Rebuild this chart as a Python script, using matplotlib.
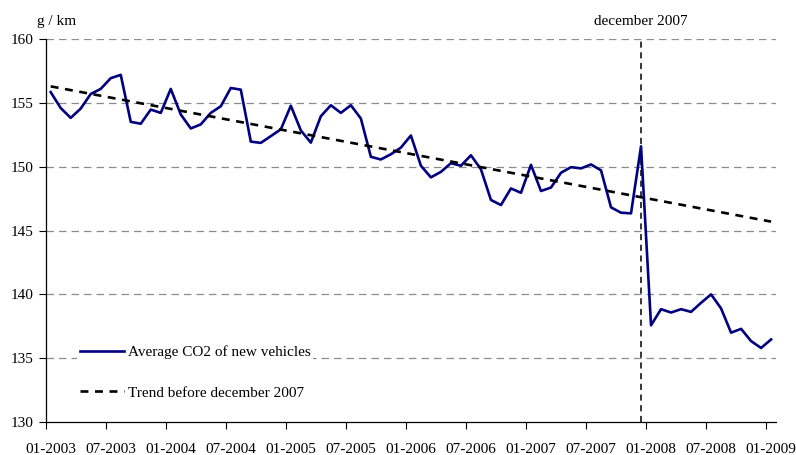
import numpy as np
import matplotlib.pyplot as plt

plt.rcParams['font.family'] = ['Liberation Serif', 'DejaVu Serif']

# monthly average CO2 of new vehicles, 01-2003 .. 01-2009
co2 = [155.85, 154.6, 153.83, 154.56, 155.7, 156.1, 156.94, 157.2, 153.52, 153.37,
       154.48, 154.22, 156.1, 154.1, 153.0, 153.32, 154.22, 154.74, 156.17, 156.04,
       151.97, 151.87, 152.4, 152.93, 154.78, 152.85, 151.89, 153.96, 154.82, 154.22,
       154.82, 153.78, 150.78, 150.57, 150.98, 151.5, 152.45, 150.08, 149.17, 149.6,
       150.28, 150.08, 150.9, 149.8, 147.4, 147.0, 148.3, 147.96, 150.15, 148.1,
       148.37, 149.53, 149.97, 149.87, 150.18, 149.72, 146.82, 146.4, 146.35, 151.6,
       137.58, 138.84, 138.58, 138.84, 138.63, 139.34, 140.0, 138.9, 137.0, 137.3,
       136.34, 135.8, 136.47]
trend_ends = [156.3, 145.7]
tick_labels = ['01-2003', '07-2003', '01-2004', '07-2004', '01-2005', '07-2005',
               '01-2006', '07-2006', '01-2007', '07-2007', '01-2008', '07-2008', '01-2009']
dec2007 = 59

x = np.arange(len(co2))

fig = plt.figure(figsize=(7.96, 4.55), dpi=100)
ax = fig.add_axes([0.0574, 0.0725, 0.9176, 0.8415])

for v in [135, 140, 145, 150, 155, 160]:
    ax.axhline(v, color='#8c8c8c', lw=0.9, ls=(0, (6, 4)), zorder=1)

ax.axvline(dec2007, color='black', lw=1.1, ls=(0, (4, 3)), zorder=2)

ax.plot(x, co2, color='#000080', lw=1.9, zorder=3,
        label='Average CO2 of new vehicles')
ax.plot([x[0], x[-1]], trend_ends, color='black', lw=1.9, ls=(0, (3, 2.5)), zorder=4,
        label='Trend before december 2007')

ax.set_xlim(-0.5, len(co2) - 0.5)
ax.set_ylim(130, 160)
ax.set_yticks([130, 135, 140, 145, 150, 155, 160])

ax.set_xticks(np.arange(0, len(co2), 6))
ax.set_xticklabels(tick_labels)
ax.set_xticks(np.arange(-0.5, len(co2) - 1, 6), minor=True)
ax.tick_params(axis='x', which='major', length=0, pad=15, labelsize=11)
ax.tick_params(axis='x', which='minor', length=5, direction='out', width=0.8)
ax.tick_params(axis='y', length=5, direction='out', width=0.8, labelsize=11, pad=4)

for s in ['top', 'right']:
    ax.spines[s].set_visible(False)
for s in ['left', 'bottom']:
    ax.spines[s].set_linewidth(0.9)

ax.text(dec2007, 160.9, 'december 2007', ha='center', va='bottom', fontsize=11)
ax.text(-1.4, 160.9, 'g / km', ha='left', va='bottom', fontsize=11)

leg = ax.legend(loc='center left', bbox_to_anchor=(0.043, 0.129), frameon=True,
                fontsize=11, handlelength=2.9, handletextpad=0.2, labelspacing=1.75,
                borderpad=0.2, borderaxespad=0, fancybox=False)
leg.get_frame().set_facecolor('white')
leg.get_frame().set_edgecolor('none')
leg.get_frame().set_alpha(1)
leg.set_zorder(5)

fig.savefig('out.png', dpi=100)
